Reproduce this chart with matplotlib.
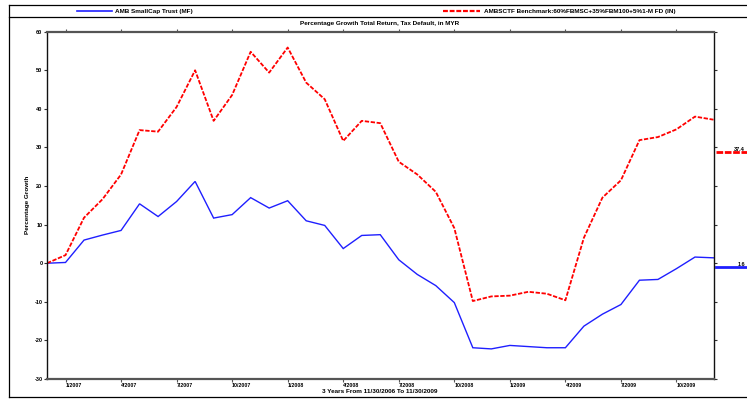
import matplotlib
matplotlib.use("Agg")
import matplotlib.pyplot as plt
import matplotlib.transforms as mtransforms
from matplotlib.lines import Line2D

plt.rcParams['font.family'] = ['Liberation Sans', 'DejaVu Sans']

# ---- data ----
fund_name = "AMB SmallCap Trust (MF)"
bench_name = "AMBSCTF Benchmark:60%FBMSC+35%FBM100+5%1-M FD (IN)"
fund = [0.0, 0.2, 6.0, 7.3, 8.5, 15.4, 12.1, 16.0, 21.2, 11.7,
        12.6, 17.0, 14.3, 16.2, 11.0, 9.8, 3.8, 7.2, 7.4, 0.9,
        -2.9, -5.8, -10.2, -21.9, -22.2, -21.3, -21.6, -21.9, -21.9, -16.3,
        -13.2, -10.7, -4.4, -4.2, -1.4, 1.6, 1.4]
bench = [0.0, 2.1, 11.8, 16.6, 23.0, 34.5, 34.1, 40.5, 50.0, 36.9,
         43.6, 54.8, 49.4, 55.9, 46.8, 42.5, 31.7, 36.9, 36.3, 26.3,
         23.0, 18.5, 9.1, -9.8, -8.6, -8.4, -7.4, -7.9, -9.6, 6.6,
         17.0, 21.5, 31.9, 32.7, 34.7, 38.0, 37.2]
tick_pos = [1, 4, 7, 10, 13, 16, 19, 22, 25, 28, 31, 34]
tick_labels = ["1/2007", "4/2007", "7/2007", "10/2007", "1/2008", "4/2008",
               "7/2008", "10/2008", "1/2009", "4/2009", "7/2009", "10/2009"]
yticks = [-30, -20, -10, 0, 10, 20, 30, 40, 50, 60]
end_labels = ["37.4", "1.6"]
end_marker_vals = [28.9, -1.1]

title = "Percentage Growth Total Return, Tax Default, in MYR"
xlabel = "3 Years From 11/30/2006 To 11/30/2009"
ylabel = "Percentage Growth"

W, H = 747, 401
fig = plt.figure(figsize=(W / 100, H / 100), dpi=100)

def fx(px):
    return px / W

def fy(py):
    return 1 - py / H

ax_l, ax_r, ax_t, ax_b = 47, 713.5, 31.7, 379
ax = fig.add_axes([fx(ax_l), fy(ax_b), fx(ax_r) - fx(ax_l), fy(ax_t) - fy(ax_b)])

x = list(range(len(fund)))
ax.plot(x, fund, color="#1f1fff", lw=1.0, solid_joinstyle="miter")
ax.plot(x, bench, color="#ff0000", lw=1.3, dashes=(2.4, 0.9))

ax.set_xlim(0, len(fund) - 1)
ax.set_ylim(-30, 60)
ax.set_yticks(yticks)
ax.set_yticklabels([str(v) for v in yticks], fontsize=4, fontweight="bold")
ax.set_xticks(tick_pos)
ax.set_xticklabels(tick_labels, fontsize=3.8, fontweight="bold", ha="left")
for lab in ax.get_xticklabels():
    lab.set_transform(lab.get_transform() + mtransforms.ScaledTranslation(1.5 / 100, 0, fig.dpi_scale_trans))
ax.tick_params(axis="x", direction="out", length=2.5, width=0.8, pad=0.5, top=True, color="#555555")
ax.tick_params(axis="y", direction="out", length=2.5, width=0.8, pad=0.8, right=True, color="#333333")

for s in ["top", "bottom"]:
    ax.spines[s].set_color("#555555")
    ax.spines[s].set_linewidth(1.6)
for s in ["left", "right"]:
    ax.spines[s].set_color("#111111")
    ax.spines[s].set_linewidth(1.0)

# right-hand end markers
trans = mtransforms.blended_transform_factory(fig.transFigure, ax.transData)
ax.add_line(Line2D([fx(716), fx(747)], [end_marker_vals[0]] * 2, transform=trans,
                   color="#ff0000", lw=2.0, dashes=(2.4, 0.6), clip_on=False))
ax.add_line(Line2D([fx(716), fx(747)], [end_marker_vals[1]] * 2, transform=trans,
                   color="#1f1fff", lw=2.0, clip_on=False))
for lab, v in zip(end_labels, end_marker_vals):
    ax.text(fx(745), v, lab, transform=trans, fontsize=4, fontweight="bold",
            ha="right", va="bottom", clip_on=False)

# titles
fig.text(fx(380), fy(24), title, fontsize=4.6, fontweight="bold", ha="center", va="center")
fig.text(fx(380), fy(391.5), xlabel, fontsize=4.6, fontweight="bold", ha="center", va="center")
fig.text(fx(27), fy(205), ylabel, fontsize=4.6, fontweight="bold", ha="center", va="center", rotation=90)

# legend row
fig.add_artist(Line2D([fx(77), fx(112)], [fy(11)] * 2, color="#1f1fff", lw=1.2))
fig.text(fx(115), fy(11), fund_name, fontsize=4.6, fontweight="bold", ha="left", va="center")
fig.add_artist(Line2D([fx(443), fx(480)], [fy(11)] * 2, color="#ff0000", lw=1.6, dashes=(2.2, 0.8)))
fig.text(fx(484), fy(11), bench_name, fontsize=4.6, fontweight="bold", ha="left", va="center")

# frame lines (left, top, bottom, legend separator)
fig.add_artist(Line2D([fx(8.5), fx(8.5)], [fy(4.5), fy(397)], color="black", lw=0.9))
fig.add_artist(Line2D([fx(8.5), fx(747)], [fy(4.5)] * 2, color="black", lw=0.9))
fig.add_artist(Line2D([fx(8.5), fx(747)], [fy(397)] * 2, color="black", lw=0.9))
fig.add_artist(Line2D([fx(8.5), fx(747)], [fy(17)] * 2, color="black", lw=0.9))

fig.savefig("out.png", dpi=100)
